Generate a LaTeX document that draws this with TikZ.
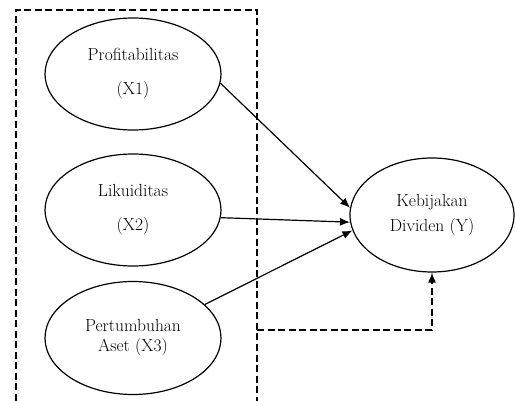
\documentclass[tikz,border=0pt]{standalone}
\usepackage{tikz}
\usetikzlibrary{shapes.geometric,arrows.meta,positioning,calc}

\tikzset{
  varnode/.style={draw, ellipse, line width=1.2pt, inner sep=0pt,
    minimum width=176pt, minimum height=112pt, align=center,
    font=\fontsize{17.5}{20}\selectfont},
  pathline/.style={line width=1.2pt, -{Latex[length=10pt,width=8pt]}},
  boxline/.style={line width=1.2pt, dash pattern=on 7pt off 3.5pt}
}

\begin{document}
\begin{tikzpicture}[x=1pt, y=-1pt]
    \useasboundingbox[fill=white] (0,0) rectangle (515,401);

    % --- independent variables ---
    \node[varnode] (x1) at (133,74) {Profitabilitas\\[14pt](X1)};
    \node[varnode] (x2) at (133,210) {Likuiditas\\[14pt](X2)};
    \node[varnode, minimum height=113pt] (x3) at (133,338) {Pertumbuhan\\Aset (X3)};

    % --- dependent variable ---
    \node[varnode, minimum width=164pt, minimum height=114pt] (y) at (432,215)
        {Kebijakan\\[5pt]Dividen (Y)};

    % Dashed frame round X1..X3 (open at the bottom)
    \coordinate (fbl) at (16,401);
    \coordinate (ftl) at (16,10);
    \coordinate (ftr) at (257,10);
    \coordinate (fbr) at (257,401);
    \draw[boxline] (fbl) -- (ftl) -- (ftr) -- (fbr);

    % Paths
    \draw[pathline] (x1.-6) -- (y.175);
    \draw[pathline] (x2.-5) -- (y.185);
    \draw[pathline] (x3.25) -- (y.191);

    % Simultaneous effect
    \coordinate (fout) at (257,330);
    \draw[boxline, -{Latex[length=10pt,width=8pt]}] (fout) -| (y.south);
\end{tikzpicture}
\end{document}
